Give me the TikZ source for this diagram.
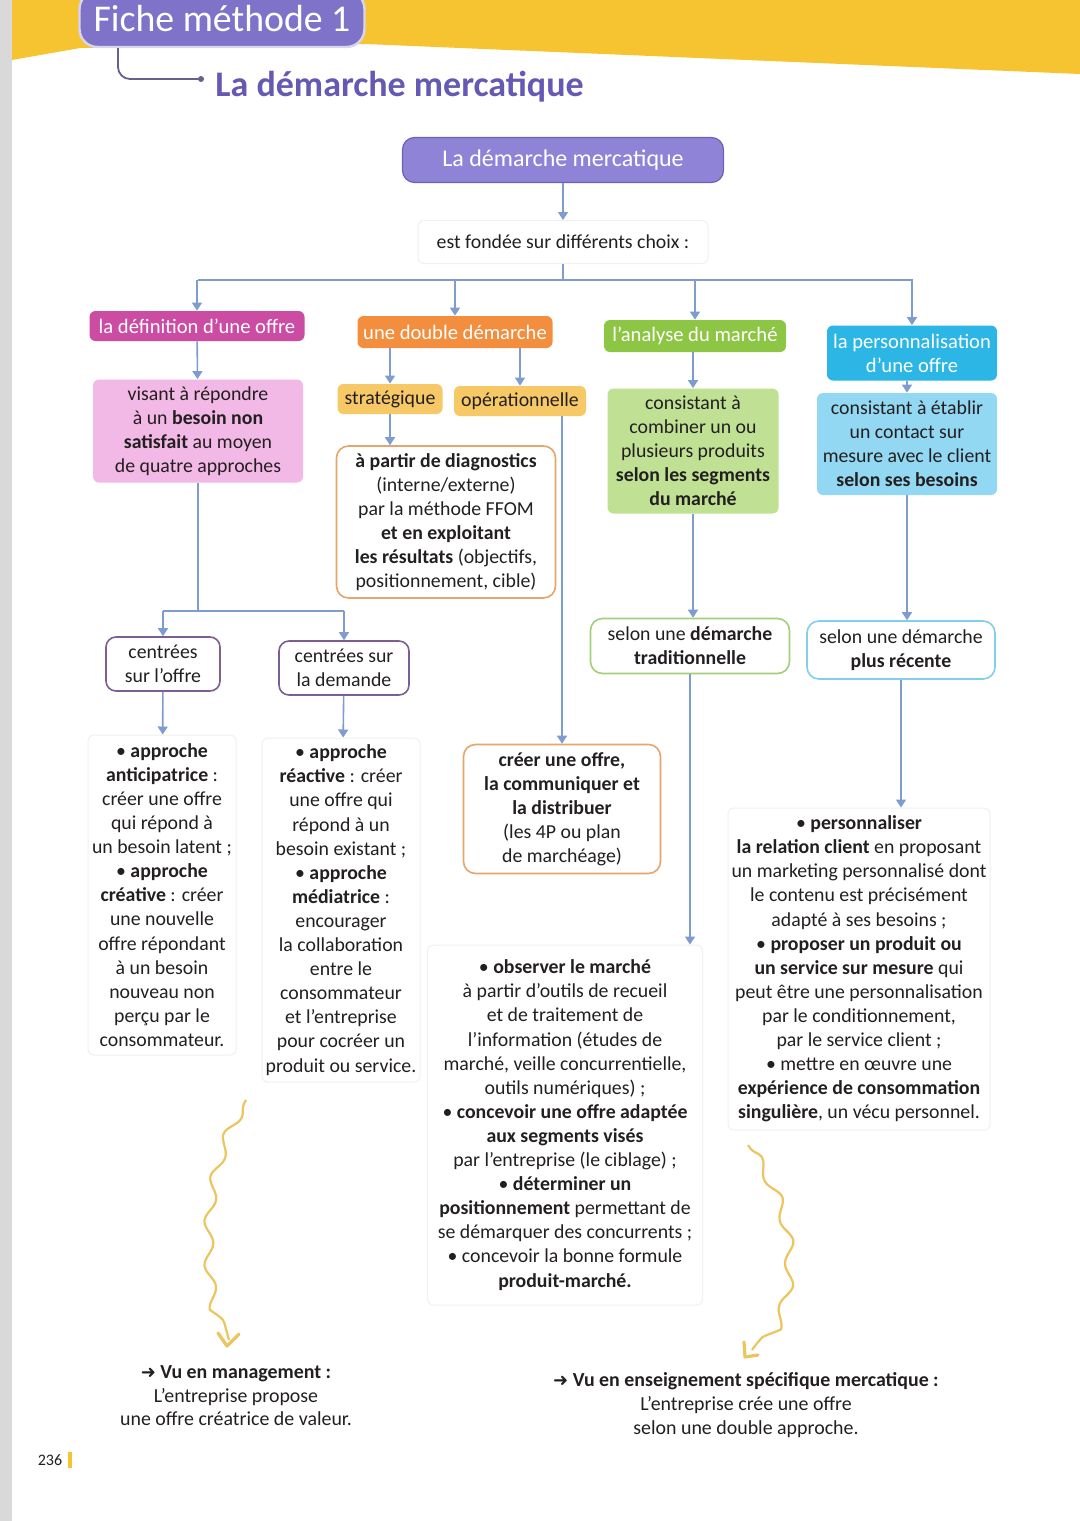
\documentclass[tikz,border=0pt]{standalone}
\usepackage{fontspec}
\setmainfont{Carlito}
\newfontfamily\dejavu{DejaVu Sans}
\usetikzlibrary{arrows.meta,decorations.pathmorphing,calc}
\definecolor{band}{HTML}{F6C431}
\definecolor{fichec}{HTML}{7E73C8}
\definecolor{headc}{HTML}{6659B3}
\definecolor{mainc}{HTML}{8F83D8}
\definecolor{mainb}{HTML}{6E62B8}
\definecolor{magc}{HTML}{CB4CA2}
\definecolor{pinkc}{HTML}{F2B8E6}
\definecolor{orc}{HTML}{F28E3E}
\definecolor{ylc}{HTML}{F7C866}
\definecolor{orb}{HTML}{E5A56B}
\definecolor{grc}{HTML}{8DC644}
\definecolor{grl}{HTML}{C0E194}
\definecolor{grb}{HTML}{A2CF78}
\definecolor{cyc}{HTML}{2BB6E6}
\definecolor{cyl}{HTML}{93D8F3}
\definecolor{cyb}{HTML}{83CEEA}
\definecolor{pub}{HTML}{7D5E90}
\definecolor{connc}{HTML}{7E9CCF}
\definecolor{txt}{HTML}{231F20}
\definecolor{wavec}{HTML}{EDC55E}
\definecolor{linkc}{HTML}{65618F}
\begin{document}
\begin{tikzpicture}[x=0.5pt,y=-0.5pt,
  box/.style={rounded corners=3pt, align=center, inner sep=0pt, text=txt, font=\fontsize{9.9}{12.05}\selectfont},
  catbox/.style={box, text=white, font=\fontsize{10.3}{12.05}\selectfont},
  plainbox/.style={box, draw=black!6, line width=0.5pt, fill=white},
  conn/.style={draw=connc, line width=0.8pt, -{Triangle[width=5pt,length=4pt]}},
  bar/.style={draw=connc, line width=0.8pt},
  wave/.style={draw=wavec, line width=1.1pt, decorate, decoration={snake, segment length=22pt, amplitude=2.4pt, pre length=2pt, post length=3pt}},
  wavehead/.style={draw=wavec, line width=1.6pt, line cap=round, line join=round}
]
\useasboundingbox (0,0) rectangle (1080,1521);
\fill[white] (0,0) rectangle (1080,1521);
\fill[black!15] (0,0) rectangle (12,1521);
\fill[band] (12,0) -- (1080,0) -- (1080,74) -- (365,44) -- (80,48) -- (12,60) -- cycle;

% header
\node[fill=fichec, draw=white!70!fichec, line width=1.2pt, rounded corners=9pt, minimum width=142.5pt, minimum height=28pt, text=white, font=\fontsize{18.9}{20}\selectfont, inner sep=0pt] (fiche) at (222,19) {Fiche méthode 1};
\node[text=headc, font=\fontsize{18}{20}\selectfont\bfseries, anchor=west, inner sep=0pt] (heading) at (215,87) {La démarche mercatique};
\draw[linkc, line width=0.9pt, rounded corners=6pt] (fiche.south -| 118,0) |- ([xshift=-7pt,yshift=4pt]heading.west);
\fill[linkc] ([xshift=-7pt,yshift=4pt]heading.west) circle (3);

% main
\node[box, fill=mainc, draw=mainb, line width=0.6pt, rounded corners=6pt, text=white, font=\fontsize{12}{14}\selectfont, minimum width=160.5pt, minimum height=22.5pt] (main) at (563,160) {La démarche mercatique};
\node[plainbox, minimum width=145pt, minimum height=21.5pt] (fondee) at (563,242) {est fondée sur différents choix :};
\draw[conn] (main) -- (fondee);

% categories
\node[catbox, fill=magc, minimum width=107.5pt, minimum height=15pt] (c1) at (197,326) {la définition d’une offre};
\node[catbox, fill=orc, minimum width=97.5pt, minimum height=16pt] (c2) at (455,332) {une double démarche};
\node[catbox, fill=grc, minimum width=91pt, minimum height=16pt] (c3) at (695,336) {l’analyse du marché};
\node[catbox, fill=cyc, minimum width=85pt, minimum height=27.5pt] (c4) at (912,353) {la personnalisation\\d’une offre};

\coordinate (barL) at (198,280);
\coordinate (barR) at (913,280);
\draw[bar] (fondee.south) -- (fondee.south |- barL);
\draw[bar] (barL) -- (barR);
\foreach \n in {c1,c2,c3,c4} \draw[conn] (\n.north |- barL) -- (\n.north);

% column 1
\node[box, fill=pinkc, minimum width=105pt, minimum height=51.5pt] (pink) at (198,431) {visant à répondre\\à un \textbf{besoin non}\\\textbf{satisfait} au moyen\\de quatre approches};
\draw[conn] (c1) -- (pink);
\node[box, draw=pub, line width=0.8pt, fill=white, rounded corners=5pt, minimum width=57pt, minimum height=27pt] (offre) at (163,664) {centrées\\sur l’offre};
\node[box, draw=pub, line width=0.8pt, fill=white, rounded corners=5pt, minimum width=65pt, minimum height=27pt] (demande) at (344,668) {centrées sur\\la demande};
\coordinate (split) at (196,611);
\draw[bar] (pink.south) -- (pink.south |- split);
\draw[bar] (offre.north |- split) -- (demande.north |- split);
\draw[conn] (offre.north |- split) -- (offre.north);
\draw[conn] (demande.north |- split) -- (demande.north);

\node[plainbox, minimum width=74pt, minimum height=160pt] (antic) at (162,895) {• \textbf{approche}\\\textbf{anticipatrice} :\\créer une offre\\qui répond à\\un besoin latent ;\\• \textbf{approche}\\\textbf{créative} : créer\\une nouvelle\\offre répondant\\à un besoin\\nouveau non\\perçu par le\\consommateur.};
\node[plainbox, minimum width=79pt, minimum height=172pt] (react) at (341,910) {• \textbf{approche}\\\textbf{réactive} : créer\\une offre qui\\répond à un\\besoin existant ;\\• \textbf{approche}\\\textbf{médiatrice} :\\encourager\\la collaboration\\entre le\\consommateur\\et l’entreprise\\pour cocréer un\\produit ou service.};
\draw[conn] (offre) -- (antic);
\draw[conn] (demande) -- (react);

% column 2
\node[box, fill=ylc, minimum width=52.5pt, minimum height=15pt] (strat) at (390,399) {stratégique};
\node[box, fill=ylc, minimum width=66pt, minimum height=15pt] (oper) at (520,401) {opérationnelle};
\draw[conn] (c2.south -| strat.north) -- (strat.north);
\draw[conn] (c2.south -| oper.north) -- (oper.north);
\node[box, draw=orb, line width=0.8pt, fill=white, rounded corners=6pt, minimum width=109.5pt, minimum height=76pt] (diag) at (446,522) {\textbf{à partir de diagnostics}\\(interne/externe)\\par la méthode FFOM\\\textbf{et en exploitant}\\\textbf{les résultats} (objectifs,\\positionnement, cible)};
\draw[conn] (strat) -- (strat.south |- diag.north);
\node[box, draw=orb, line width=0.8pt, fill=white, rounded corners=6pt, minimum width=98.5pt, minimum height=64.5pt] (creer) at (562,809) {\textbf{créer une offre,}\\\textbf{la communiquer et}\\\textbf{la distribuer}\\(les 4P ou plan\\de marchéage)};
\draw[conn] (oper.south -| creer.north) -- (creer.north);

% column 3
\node[box, fill=grl, minimum width=85.5pt, minimum height=62.5pt] (combi) at (693,451) {consistant à\\combiner un ou\\plusieurs produits\\\textbf{selon les segments}\\\textbf{du marché}};
\draw[conn] (c3.south -| combi.north) -- (combi.north);
\node[box, draw=grb, line width=0.8pt, fill=white, rounded corners=6pt, minimum width=99.5pt, minimum height=27.5pt] (trad) at (690,646) {selon une \textbf{démarche}\\\textbf{traditionnelle}};
\draw[conn] (combi.south) -- (combi.south |- trad.north);
\node[plainbox, minimum width=137.5pt, minimum height=180pt] (obs) at (565,1125) {• \textbf{observer le marché}\\à partir d’outils de recueil\\et de traitement de\\l’information (études de\\marché, veille concurrentielle,\\outils numériques) ;\\• \textbf{concevoir une offre adaptée}\\\textbf{aux segments visés}\\par l’entreprise (le ciblage) ;\\• \textbf{déterminer un}\\\textbf{positionnement} permettant de\\se démarquer des concurrents ;\\• concevoir la bonne formule\\\textbf{produit-marché.}};
\draw[conn] (trad.south) -- (trad.south |- obs.north);

% column 4
\node[box, fill=cyl, minimum width=90pt, minimum height=51pt] (contact) at (907,444) {consistant à établir\\un contact sur\\mesure avec le client\\\textbf{selon ses besoins}};
\draw[conn] (c4.south -| contact.north) -- (contact.north);
\node[box, draw=cyb, line width=0.8pt, fill=white, rounded corners=6pt, minimum width=94pt, minimum height=29pt] (recente) at (901,650) {selon une démarche\\\textbf{plus récente}};
\draw[conn] (contact.south) -- (contact.south |- recente.north);
\node[plainbox, minimum width=131pt, minimum height=161pt] (perso) at (859,969) {• \textbf{personnaliser}\\\textbf{la relation client} en proposant\\un marketing personnalisé dont\\le contenu est précisément\\adapté à ses besoins ;\\• \textbf{proposer un produit ou}\\\textbf{un service sur mesure} qui\\peut être une personnalisation\\par le conditionnement,\\par le service client ;\\• mettre en œuvre une\\\textbf{expérience de consommation}\\\textbf{singulière}, un vécu personnel.};
\draw[conn] (recente.south) -- (recente.south |- perso.north);

% bottom notes
\node[box, font=\fontsize{9.95}{11.8}\selectfont] (mgmt) at (236,1396) {{\dejavu\bfseries\fontsize{9}{10}\selectfont ➜} \textbf{Vu en management :}\\L’entreprise propose\\une offre créatrice de valeur.};
\node[box, font=\fontsize{9.95}{11.8}\selectfont] (merca) at (746,1405) {{\dejavu\bfseries\fontsize{9}{10}\selectfont ➜} \textbf{Vu en enseignement spécifique mercatique :}\\L’entreprise crée une offre\\selon une double approche.};

\coordinate (w1s) at (246,1100);
\coordinate (w1e) at (229,1340);
\draw[wave] (w1s) .. controls (200,1180) and (212,1280) .. (w1e);
\draw[wavehead] (218,1333) -- (227,1346) -- (239,1334);
\coordinate (w2s) at (748,1145);
\coordinate (w2e) at (752,1350);
\draw[wave] (w2s) .. controls (800,1220) and (790,1300) .. (w2e);
\draw[wavehead] (744,1342) -- (745,1357) -- (758,1355);

% page number
\node[font=\fontsize{8}{10}\selectfont, text=txt, inner sep=0pt] (pg) at (50,1460) {236};
\fill[band] (68,1452) rectangle (72,1468);
\end{tikzpicture}
\end{document}
